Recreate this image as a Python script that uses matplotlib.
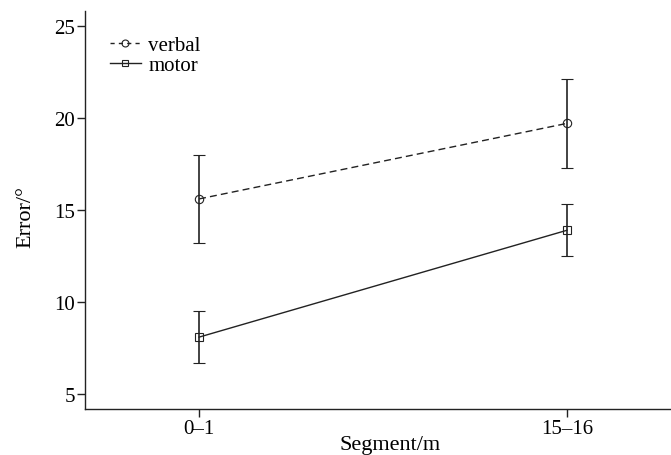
import matplotlib
matplotlib.use("Agg")
import matplotlib.pyplot as plt
from matplotlib.lines import Line2D

# data
segments = ["0\u20131", "15\u201316"]
verbal_mean = [15.6, 19.7]
verbal_err = [2.4, 2.4]
motor_mean = [8.1, 13.9]
motor_err = [1.4, 1.4]

plt.rcParams["font.family"] = ["Liberation Serif", "DejaVu Serif"]
ink = "#222222"

fig = plt.figure(figsize=(6.71, 4.56), dpi=100)
ax = fig.add_axes([0.1267, 0.1009, 0.8718, 0.8728])

x = list(range(len(segments)))
ax.errorbar(x, verbal_mean, yerr=verbal_err, color=ink, lw=1.0,
            ls="--", dashes=(5, 3), marker="o", ms=6, mfc="none", mew=0.8,
            capsize=4, elinewidth=1.2, capthick=1.2)
ax.errorbar(x, motor_mean, yerr=motor_err, color=ink, lw=1.0,
            ls="-", marker="s", ms=6, mfc="none", mew=0.8,
            capsize=4, elinewidth=1.2, capthick=1.2)

ax.set_xlim(-0.31, 1.28)
ax.set_ylim(4.2, 25.8)
ax.set_xticks(x)
ax.set_xticklabels(segments)
ax.set_yticks([5, 10, 15, 20, 25])

ax.spines["top"].set_visible(False)
ax.spines["right"].set_visible(False)
for s in ("left", "bottom"):
    ax.spines[s].set_linewidth(1.0)
    ax.spines[s].set_color(ink)
ax.tick_params(axis="both", length=6, width=1.0, color=ink,
               labelsize=15, pad=1)

ax.set_xlabel("Segment/m", fontsize=16)
ax.xaxis.set_label_coords(0.521, -0.065)
ax.set_ylabel("Error/\u00b0", fontsize=16)
ax.yaxis.set_label_coords(-0.085, 0.485)

handles = [
    Line2D([], [], color=ink, lw=1.0, ls="--", dashes=(3, 3), marker="o",
           ms=5, mfc="none", mew=0.8),
    Line2D([], [], color=ink, lw=1.0, ls="-", marker="s",
           ms=5, mfc="none", mew=0.8),
]
ax.legend(handles, ["verbal", "motor"], loc="upper left",
          bbox_to_anchor=(0.01, 0.985), frameon=False, fontsize=15,
          handlelength=1.5, handletextpad=0.35, labelspacing=0.0,
          borderaxespad=0.5)

fig.savefig("out.png", dpi=100)
